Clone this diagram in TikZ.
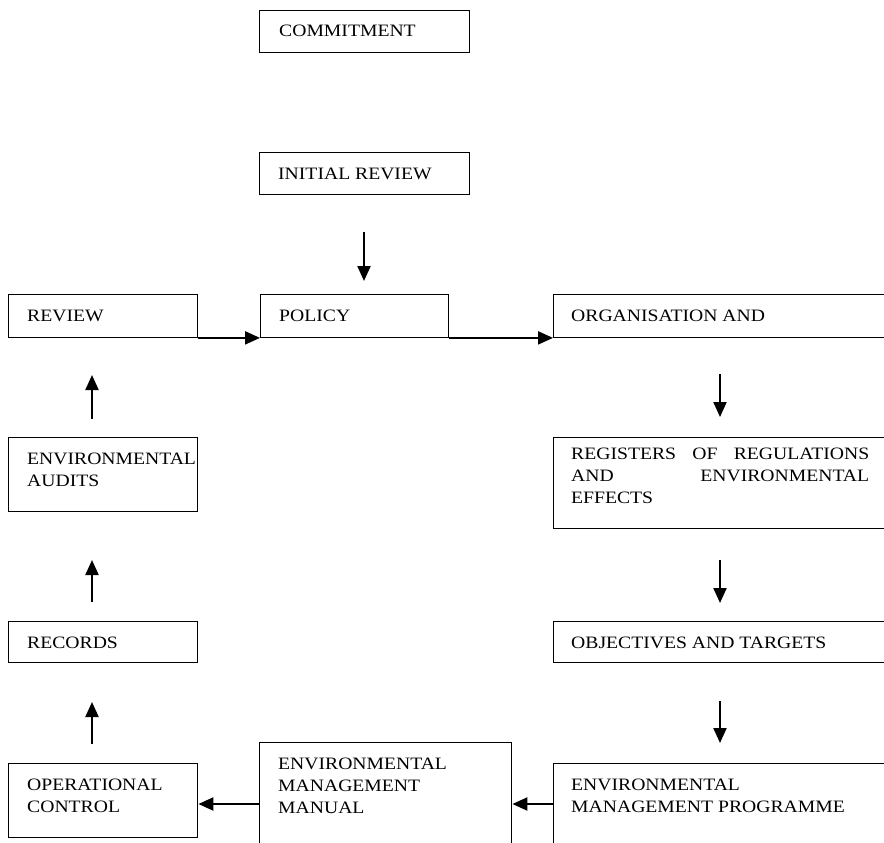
\documentclass[tikz,border=0pt]{standalone}
\usepackage{fontspec}
\setmainfont{Liberation Serif}[FakeStretch=1.13]
\usetikzlibrary{arrows.meta,calc}
\begin{document}
\begin{tikzpicture}[x=1pt,y=-1pt,
  box/.style={draw,line width=1.4pt,inner sep=0pt,anchor=north west},
  lbl/.style={anchor=base west,inner sep=0pt,font=\fontsize{17.4}{22}\selectfont},
  arr/.style={line width=2.2pt,-{Triangle[length=15pt,width=13pt]}}]
\useasboundingbox (0,0) rectangle (884,843);
\clip (0,0) rectangle (884,843);
% boxes
\node[box,minimum width=210pt,minimum height=42pt] (commit) at (259,10) {};
\node[box,minimum width=210pt,minimum height=42pt] (initial) at (259,152) {};
\node[box,minimum width=189pt,minimum height=42.5pt] (review) at (8,294) {};
\node[box,minimum width=188pt,minimum height=42.5pt] (policy) at (260,294) {};
\node[box,minimum width=360pt,minimum height=42.5pt] (org) at (553,294) {};
\node[box,minimum width=189pt,minimum height=74pt] (audits) at (8,437) {};
\node[box,minimum width=360pt,minimum height=91pt] (registers) at (553,437) {};
\node[box,minimum width=189pt,minimum height=41pt] (records) at (8,621) {};
\node[box,minimum width=360pt,minimum height=41pt] (objectives) at (553,621) {};
\node[box,minimum width=189pt,minimum height=74pt] (opctrl) at (8,763) {};
\node[box,minimum width=252pt,minimum height=160pt] (manual) at (259,742) {};
\node[box,minimum width=360pt,minimum height=140pt] (programme) at (553,763) {};
% texts
\node[lbl] (t-commit) at ($(commit.north west)+(20,27)$) {COMMITMENT};
\node[lbl] (t-initial) at ($(initial.north west)+(19,27)$) {INITIAL REVIEW};
\node[lbl] (t-review) at ($(review.north west)+(19,27)$) {REVIEW};
\node[lbl] (t-policy) at ($(policy.north west)+(19,27)$) {POLICY};
\node[lbl] (t-org) at ($(org.north west)+(18,27)$) {ORGANISATION AND};
\node[lbl] (t-audits) at ($(audits.north west)+(19,27)$) {\vtop{\hbox{ENVIRONMENTAL}\hbox{AUDITS}}};
\node[lbl] (t-registers) at ($(registers.north west)+(18,22)$) {\vtop{\hbox to 298pt{REGISTERS\hfill OF\hfill REGULATIONS}\hbox to 298pt{AND\hfill ENVIRONMENTAL}\hbox{EFFECTS}}};
\node[lbl] (t-records) at ($(records.north west)+(19,27)$) {RECORDS};
\node[lbl] (t-objectives) at ($(objectives.north west)+(18,27)$) {OBJECTIVES AND TARGETS};
\node[lbl] (t-opctrl) at ($(opctrl.north west)+(19,27)$) {\vtop{\hbox{OPERATIONAL}\hbox{CONTROL}}};
\node[lbl] (t-manual) at ($(manual.north west)+(19,27)$) {\vtop{\hbox{ENVIRONMENTAL}\hbox{MANAGEMENT}\hbox{MANUAL}}};
\node[lbl] (t-programme) at ($(programme.north west)+(18,27)$) {\vtop{\hbox{ENVIRONMENTAL}\hbox{MANAGEMENT PROGRAMME}}};
% free arrow ends
\coordinate (a1s) at (364,232); \coordinate (a1e) at (364,281);
\coordinate (a4s) at (720,374); \coordinate (a4e) at (720,417);
\coordinate (a5s) at (720,560); \coordinate (a5e) at (720,603);
\coordinate (a6s) at (720,701); \coordinate (a6e) at (720,743);
\coordinate (a7s) at (92,419);  \coordinate (a7e) at (92,375);
\coordinate (a8s) at (92,602);  \coordinate (a8e) at (92,560);
\coordinate (a9s) at (92,744);  \coordinate (a9e) at (92,702);
\coordinate (ylow) at (0,804);
% arrows
\draw[arr] (a1s) -- (a1e);
\draw[arr] (review.south east) -- (policy.south west);
\draw[arr] (policy.south east) -- (org.south west);
\draw[arr] (a4s) -- (a4e);
\draw[arr] (a5s) -- (a5e);
\draw[arr] (a6s) -- (a6e);
\draw[arr] (a7s) -- (a7e);
\draw[arr] (a8s) -- (a8e);
\draw[arr] (a9s) -- (a9e);
\draw[arr] (programme.west |- ylow) -- (manual.east |- ylow);
\draw[arr] (manual.west |- ylow) -- (opctrl.east |- ylow);
\end{tikzpicture}
\end{document}
